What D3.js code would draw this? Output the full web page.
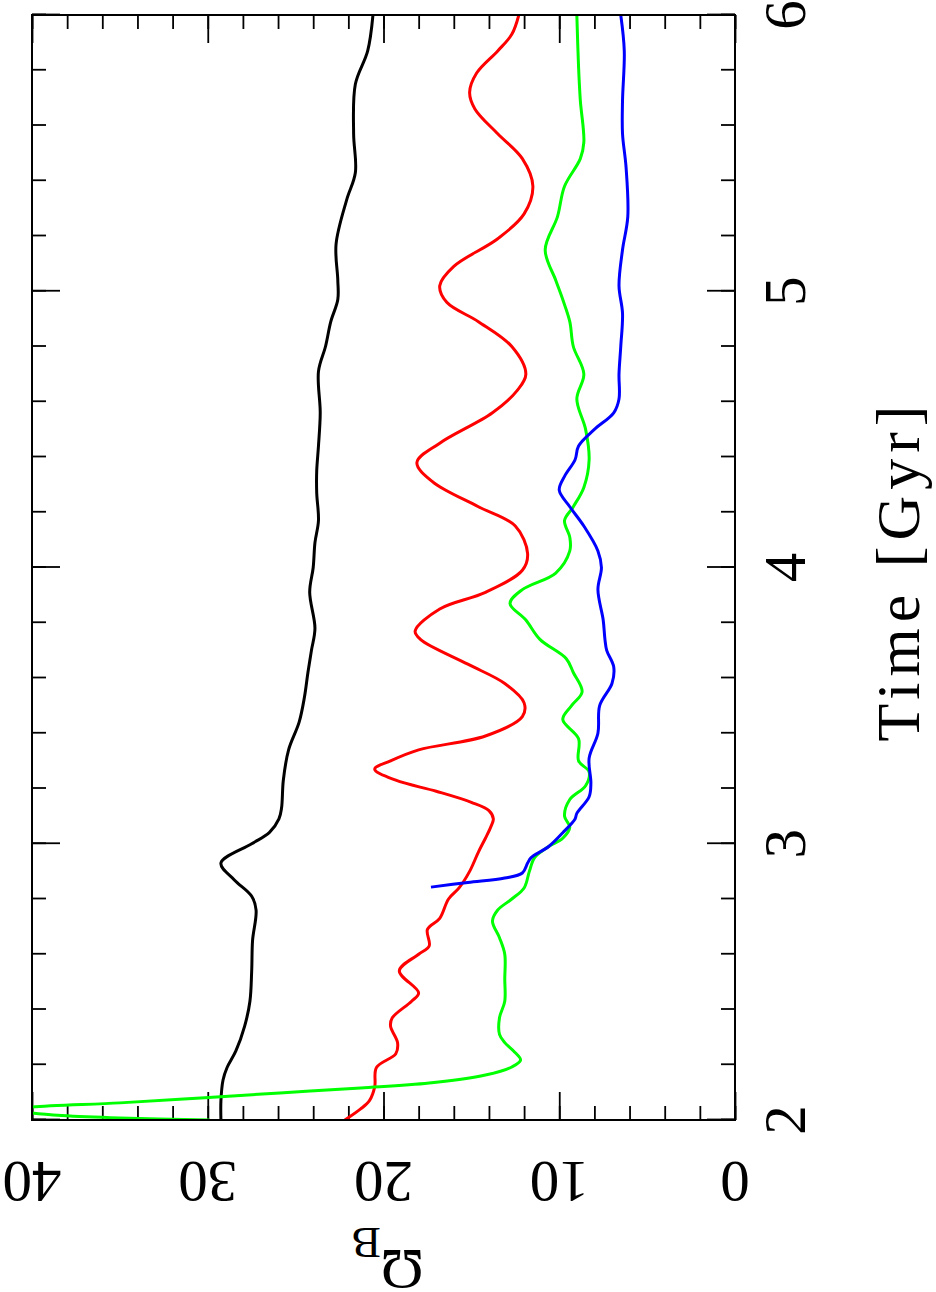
<!DOCTYPE html>
<html>
<head>
<meta charset="utf-8">
<script src="https://cdn.jsdelivr.net/npm/d3@7"></script>
<style>
  body { margin: 0; background: #fff; }
  svg { display: block; }
  text { font-family: "Liberation Serif", "DejaVu Serif", serif; fill: #000; }
</style>
</head>
<body>
<svg width="936" height="1292"></svg>
<script>
// tick labels
const timeTicks = [2, 3, 4, 5, 6];
const omegaTicks = [0, 10, 20, 30, 40];

// black series
const blackTime = [2.0, 2.07, 2.145, 2.19, 2.25, 2.34, 2.43, 2.54, 2.65, 2.76, 2.81, 2.87, 2.93, 3.0, 3.04, 3.09, 3.13, 3.23, 3.34, 3.44, 3.53, 3.62, 3.7, 3.78, 3.91, 4.0, 4.09, 4.17, 4.27, 4.35, 4.44, 4.56, 4.71, 4.8, 4.89, 4.97, 5.04, 5.17, 5.33, 5.43, 5.57, 5.75, 5.87, 6.0];
const blackOmega = [29.25, 29.25, 29.13, 28.9, 28.4, 27.9, 27.6, 27.5, 27.45, 27.25, 27.5, 28.5, 29.25, 27.5, 26.5, 25.95, 25.8, 25.7, 25.4, 24.8, 24.5, 24.3, 24.1, 23.9, 24.2, 24.0, 23.9, 23.7, 23.8, 23.8, 23.7, 23.6, 23.7, 23.3, 23.0, 22.6, 22.6, 22.7, 22.1, 21.6, 21.7, 21.6, 20.9, 20.6];

// red series
const redTime = [2.0, 2.04, 2.07, 2.12, 2.19, 2.24, 2.28, 2.34, 2.37, 2.43, 2.46, 2.54, 2.6, 2.63, 2.69, 2.73, 2.8, 2.84, 2.9, 2.97, 3.02, 3.06, 3.09, 3.12, 3.15, 3.19, 3.23, 3.27, 3.3, 3.34, 3.39, 3.46, 3.51, 3.58, 3.65, 3.74, 3.77, 3.85, 3.91, 3.99, 4.05, 4.15, 4.22, 4.31, 4.38, 4.45, 4.56, 4.64, 4.7, 4.8, 4.89, 4.96, 5.02, 5.09, 5.19, 5.28, 5.38, 5.48, 5.57, 5.66, 5.72, 5.79, 5.87, 5.93, 6.0];
const redOmega = [22.2, 21.3, 20.8, 20.5, 20.4, 19.3, 19.2, 19.6, 19.5, 18.4, 18.0, 19.1, 18.0, 17.4, 17.5, 16.8, 16.3, 15.7, 15.1, 14.6, 14.2, 13.9, 13.75, 14.0, 15.0, 17.0, 19.3, 20.5, 19.6, 18.0, 14.2, 12.1, 12.0, 13.1, 15.2, 17.9, 18.2, 16.8, 14.2, 12.1, 11.8, 12.5, 14.6, 17.2, 18.1, 16.8, 13.8, 12.4, 11.9, 12.7, 14.6, 16.4, 16.8, 16.0, 13.5, 12.0, 11.5, 12.1, 13.5, 14.8, 15.1, 14.7, 13.5, 12.7, 12.3];

// green series
const greenTime = [2.0, 2.007, 2.016, 2.025, 2.036, 2.047, 2.062, 2.08, 2.098, 2.116, 2.134, 2.163, 2.192, 2.217, 2.25, 2.28, 2.31, 2.37, 2.43, 2.51, 2.6, 2.66, 2.72, 2.76, 2.8, 2.84, 2.9, 2.95, 2.99, 3.02, 3.06, 3.1, 3.16, 3.21, 3.26, 3.3, 3.38, 3.45, 3.5, 3.55, 3.62, 3.67, 3.74, 3.81, 3.87, 3.92, 3.98, 4.06, 4.11, 4.17, 4.22, 4.29, 4.39, 4.5, 4.61, 4.7, 4.8, 4.89, 4.97, 5.04, 5.15, 5.27, 5.38, 5.48, 5.54, 5.69, 5.81, 6.0];
const greenOmega = [29.9, 35.0, 38.3, 40.0, 41.2, 40.0, 35.0, 30.4, 25.9, 21.3, 17.4, 14.2, 12.7, 12.2, 12.6, 13.1, 13.4, 13.4, 13.1, 13.1, 13.1, 13.4, 13.8, 13.5, 12.7, 12.0, 11.7, 11.4, 10.6, 9.8, 9.4, 9.7, 9.4, 8.5, 8.3, 8.9, 8.9, 9.8, 9.3, 8.7, 9.2, 9.6, 11.1, 11.9, 12.8, 12.1, 10.2, 9.4, 9.4, 9.7, 9.2, 8.6, 8.3, 8.5, 9.0, 8.6, 9.2, 9.4, 9.8, 10.2, 10.8, 10.1, 9.7, 8.8, 8.6, 8.8, 8.9, 9.0];

// blue series
const blueTime = [2.843, 2.86, 2.876, 2.894, 2.93, 2.95, 2.99, 3.04, 3.09, 3.11, 3.17, 3.22, 3.31, 3.4, 3.5, 3.58, 3.64, 3.7, 3.74, 3.81, 3.92, 4.0, 4.06, 4.15, 4.22, 4.28, 4.33, 4.39, 4.44, 4.5, 4.56, 4.61, 4.7, 4.8, 4.92, 5.02, 5.15, 5.27, 5.45, 5.57, 5.69, 5.87, 6.0];
const blueOmega = [17.3, 15.2, 13.1, 12.1, 11.8, 11.6, 10.6, 9.8, 9.1, 9.0, 8.3, 8.2, 8.3, 7.8, 7.7, 7.0, 6.9, 7.3, 7.4, 7.5, 7.8, 7.6, 7.8, 8.6, 9.4, 10.0, 9.7, 9.1, 8.9, 8.0, 6.9, 6.6, 6.6, 6.5, 6.4, 6.6, 6.4, 6.1, 6.2, 6.4, 6.4, 6.3, 6.5];

const series = [
  { color: "#000000", time: blackTime, omega: blackOmega },
  { color: "#ff0000", time: redTime, omega: redOmega },
  { color: "#00ff00", time: greenTime, omega: greenOmega },
  { color: "#0000ff", time: blueTime, omega: blueOmega },
];

const svg = d3.select("svg");

// the figure is a landscape plot turned a quarter turn counter-clockwise
const origin = { x: 32, y: 1120 };
const innerWidth = 1105;
const innerHeight = 703;

const xScale = d3.scaleLinear().domain([2, 6]).range([0, innerWidth]);
const yScale = d3.scaleLinear().domain([0, 40]).range([innerHeight, 0]);

const g = svg.append("g").attr("transform", `translate(${origin.x},${origin.y}) rotate(-90)`);

g.append("defs")
  .append("clipPath")
  .attr("id", "plot-clip")
  .append("rect")
  .attr("width", innerWidth)
  .attr("height", innerHeight);

// ticks on all four sides, pointing inward
const minorTime = d3.range(2, 6.001, 0.2);
const minorOmega = d3.range(0, 40.001, 2);

function ticks(axisFn, scale, values, size, transform) {
  g.append("g")
    .attr("transform", transform)
    .call(axisFn(scale).tickValues(values).tickSize(size).tickSizeOuter(0).tickFormat(""))
    .call((a) => a.select(".domain").remove())
    .selectAll("line")
    .attr("stroke", "#000")
    .attr("stroke-width", 1.8);
}

ticks(d3.axisBottom, xScale, minorTime, -14, `translate(0,${innerHeight})`);
ticks(d3.axisBottom, xScale, timeTicks, -28, `translate(0,${innerHeight})`);
ticks(d3.axisTop, xScale, minorTime, -14, "translate(0,0)");
ticks(d3.axisTop, xScale, timeTicks, -28, "translate(0,0)");
ticks(d3.axisLeft, yScale, minorOmega, -14, "translate(0,0)");
ticks(d3.axisLeft, yScale, omegaTicks, -28, "translate(0,0)");
ticks(d3.axisRight, yScale, minorOmega, -14, `translate(${innerWidth},0)`);
ticks(d3.axisRight, yScale, omegaTicks, -28, `translate(${innerWidth},0)`);

// curves
const line = d3
  .line()
  .x((d) => xScale(d[0]))
  .y((d) => yScale(d[1]))
  .curve(d3.curveCatmullRom.alpha(0.5));

const curves = g.append("g").attr("clip-path", "url(#plot-clip)");
series.forEach((s) => {
  curves
    .append("path")
    .datum(d3.zip(s.time, s.omega))
    .attr("fill", "none")
    .attr("stroke", s.color)
    .attr("stroke-width", 3)
    .attr("stroke-linejoin", "round")
    .attr("d", line);
});

// frame
g.append("rect")
  .attr("width", innerWidth)
  .attr("height", innerHeight)
  .attr("fill", "none")
  .attr("stroke", "#000")
  .attr("stroke-width", 2);

// tick labels
g.selectAll(".time-label")
  .data(timeTicks)
  .enter()
  .append("text")
  .attr("class", "time-label")
  .attr("x", (d) => xScale(d))
  .attr("y", innerHeight + 70)
  .attr("text-anchor", "middle")
  .attr("font-size", 59)
  .text((d) => d);

g.selectAll(".omega-label")
  .data(omegaTicks)
  .enter()
  .append("text")
  .attr("class", "omega-label")
  .attr("transform", (d) => `translate(-42,${yScale(d)}) rotate(-90)`)
  .attr("text-anchor", "middle")
  .attr("font-size", 59)
  .text((d) => d);

// axis titles
g.append("text")
  .attr("x", innerWidth / 2 - 6)
  .attr("y", innerHeight + 184)
  .attr("text-anchor", "middle")
  .attr("font-size", 62)
  .attr("textLength", 336)
  .attr("lengthAdjust", "spacing")
  .text("Time [Gyr]");

const omegaTitle = g
  .append("text")
  .attr("transform", `translate(-130,${innerHeight / 2 + 4}) rotate(-90)`)
  .attr("text-anchor", "middle")
  .attr("font-size", 58);
omegaTitle.append("tspan").text("Ω");
omegaTitle.append("tspan").attr("font-size", 44).attr("dy", 22).text("B");
</script>
</body>
</html>
